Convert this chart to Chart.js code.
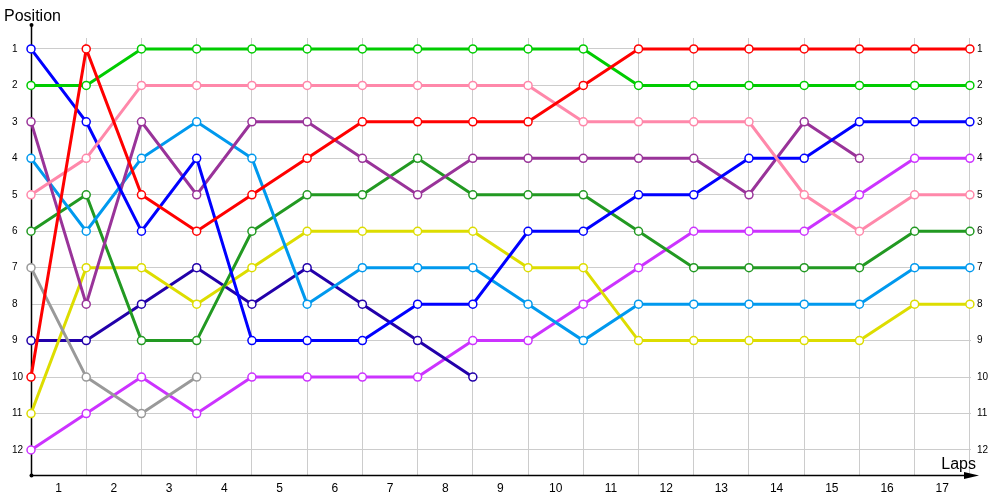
<!DOCTYPE html>
<html>
<head>
<meta charset="utf-8">
<title>Positions by lap</title>
<script src="https://cdn.jsdelivr.net/npm/chart.js@4/dist/chart.umd.min.js"></script>
<style>
html, body { margin: 0; padding: 0; background: #fff; }
#wrap { width: 1000px; height: 500px; }
</style>
</head>
<body>
<div id="wrap"><canvas id="lapChart"></canvas></div>
<script>
// lap index of every point (0 = start)
const laps = [0, 1, 2, 3, 4, 5, 6, 7, 8, 9, 10, 11, 12, 13, 14, 15, 16, 17];
// labels printed between the grid lines
const lapLabels = ['1', '2', '3', '4', '5', '6', '7', '8', '9', '10', '11', '12', '13', '14', '15', '16', '17'];
const positions = [1, 2, 3, 4, 5, 6, 7, 8, 9, 10, 11, 12];

// position of each driver after every lap (null = out)
const redPos     = [10, 1, 5, 6, 5, 4, 3, 3, 3, 3, 2, 1, 1, 1, 1, 1, 1, 1];
const greenPos   = [2, 2, 1, 1, 1, 1, 1, 1, 1, 1, 1, 2, 2, 2, 2, 2, 2, 2];
const pinkPos    = [5, 4, 2, 2, 2, 2, 2, 2, 2, 2, 3, 3, 3, 3, 5, 6, 5, 5];
const bluePos    = [1, 3, 6, 4, 9, 9, 9, 8, 8, 6, 6, 5, 5, 4, 4, 3, 3, 3];
const purplePos  = [3, 8, 3, 5, 3, 3, 4, 5, 4, 4, 4, 4, 4, 5, 3, 4, null, null];
const skyPos     = [4, 6, 4, 3, 4, 8, 7, 7, 7, 8, 9, 8, 8, 8, 8, 8, 7, 7];
const darkGrnPos = [6, 5, 9, 9, 6, 5, 5, 4, 5, 5, 5, 6, 7, 7, 7, 7, 6, 6];
const grayPos    = [7, 10, 11, 10, null, null, null, null, null, null, null, null, null, null, null, null, null, null];
const yellowPos  = [11, 7, 7, 8, 7, 6, 6, 6, 6, 7, 7, 9, 9, 9, 9, 9, 8, 8];
const navyPos    = [9, 9, 8, 7, 8, 7, 8, 9, 10, null, null, null, null, null, null, null, null, null];
const magentaPos = [12, 11, 10, 11, 10, 10, 10, 10, 9, 9, 8, 7, 6, 6, 6, 5, 4, 4];

function series(label, values, color) {
    return {
        label: label,
        data: values.map((v, i) => ({ x: laps[i], y: v })).filter(p => p.y !== null),
        borderColor: color,
        backgroundColor: '#ffffff',
        borderWidth: 3,
        pointRadius: 4,
        pointBorderWidth: 1.5,
        pointBackgroundColor: '#ffffff',
        pointBorderColor: color,
        tension: 0,
        clip: false
    };
}

// axis lines, arrow and the two free labels
const axesDecor = {
    id: 'axesDecor',
    beforeDatasetsDraw(chart) {
        const ctx = chart.ctx;
        const a = chart.chartArea;
        const x0 = Math.round(a.left) + 0.5;
        const y0 = Math.round(a.bottom) + 0.5;
        ctx.save();
        ctx.strokeStyle = '#000';
        ctx.fillStyle = '#000';
        ctx.lineWidth = 1.5;
        ctx.beginPath();
        ctx.moveTo(x0, 25);
        ctx.lineTo(x0, y0);
        ctx.lineTo(966, y0);
        ctx.stroke();
        ctx.beginPath();
        ctx.moveTo(979, y0);
        ctx.lineTo(964, y0 - 3.5);
        ctx.lineTo(964, y0 + 3.5);
        ctx.closePath();
        ctx.fill();
        ctx.beginPath(); ctx.arc(x0, 25, 2, 0, Math.PI * 2); ctx.fill();
        ctx.beginPath(); ctx.arc(x0, y0, 2, 0, Math.PI * 2); ctx.fill();
        ctx.font = '16px "Liberation Sans"';
        ctx.textBaseline = 'alphabetic';
        ctx.textAlign = 'left';
        ctx.fillText('Position', 4, 21);
        ctx.textAlign = 'right';
        ctx.fillText('Laps', 976, 469);
        ctx.restore();
    }
};

const yRange = { min: 0.7, max: 12.686 };
const xRange = { min: 0, max: 17.02 };

const config = {
    type: 'line',
    data: {
        datasets: [
            series('Red', redPos, '#ff0000'),
            series('Green', greenPos, '#00cc00'),
            series('Pink', pinkPos, '#ff88aa'),
            series('Blue', bluePos, '#0000ff'),
            series('Purple', purplePos, '#993399'),
            series('Sky', skyPos, '#0099ee'),
            series('Dark green', darkGrnPos, '#229922'),
            series('Gray', grayPos, '#999999'),
            series('Yellow', yellowPos, '#dddd00'),
            series('Navy', navyPos, '#2200aa'),
            series('Magenta', magentaPos, '#cc33ff')
        ]
    },
    options: {
        responsive: true,
        maintainAspectRatio: false,
        animation: false,
        layout: { padding: { top: 38, left: 12, right: 0, bottom: 0 } },
        plugins: {
            legend: { display: false },
            tooltip: { enabled: false }
        },
        scales: {
            x: {
                type: 'linear', position: 'bottom', min: xRange.min, max: xRange.max,
                afterBuildTicks: s => { s.ticks = laps.map(v => ({ value: v })); },
                grid: { color: '#cccccc', drawTicks: false },
                border: { display: false },
                ticks: { display: false }
            },
            xLab: {
                type: 'linear', position: 'bottom', min: xRange.min, max: xRange.max,
                afterBuildTicks: s => { s.ticks = lapLabels.map((t, i) => ({ value: laps[i] + 0.5 })); },
                afterFit: s => { s.height = 25; },
                grid: { display: false, drawTicks: false },
                border: { display: false },
                ticks: {
                    callback: (v, i) => lapLabels[i],
                    color: '#000', padding: 6, maxRotation: 0, autoSkip: false,
                    font: { family: 'Liberation Sans', size: 12 }
                }
            },
            y: {
                type: 'linear', position: 'left', reverse: true, min: yRange.min, max: yRange.max,
                afterBuildTicks: s => { s.ticks = positions.map(v => ({ value: v })); },
                afterFit: s => { s.width = 19; },
                grid: { color: '#cccccc', drawTicks: false },
                border: { display: false },
                ticks: {
                    color: '#000', padding: 4, crossAlign: 'far',
                    font: { family: 'Liberation Sans', size: 10 }
                }
            },
            yRight: {
                type: 'linear', position: 'right', reverse: true, min: yRange.min, max: yRange.max,
                afterBuildTicks: s => { s.ticks = positions.map(v => ({ value: v })); },
                afterFit: s => { s.width = 29; },
                grid: { display: false, drawTicks: false },
                border: { display: false },
                ticks: {
                    color: '#000', padding: 6,
                    font: { family: 'Liberation Sans', size: 10 }
                }
            }
        }
    },
    plugins: [axesDecor]
};

window.onload = function () {
    const ctx = document.getElementById('lapChart').getContext('2d');
    new Chart(ctx, config);
};
</script>
</body>
</html>
